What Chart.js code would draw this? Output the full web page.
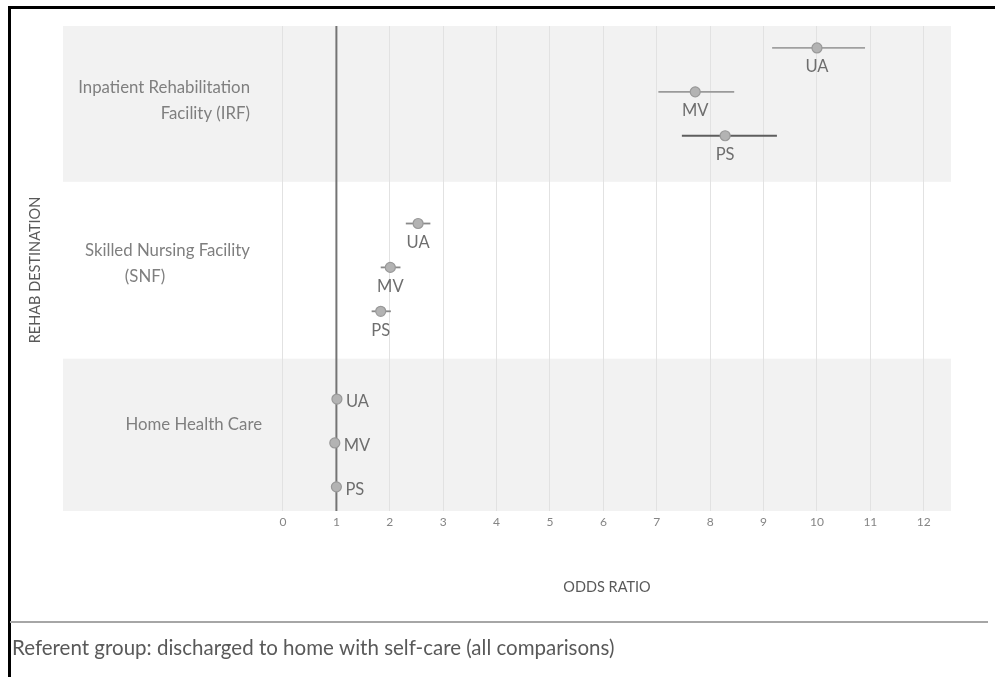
<!DOCTYPE html>
<html>
<head>
<meta charset="utf-8">
<script src="https://cdn.jsdelivr.net/npm/chart.js@4/dist/chart.umd.min.js"></script>
<style>
  html, body { margin: 0; padding: 0; background: #fff; }
  #wrap { position: relative; width: 995px; height: 677px; overflow: hidden; }
  #frame { position: absolute; left: 8px; top: 6px; width: 1000px; height: 700px;
           border-left: 3px solid #000; border-top: 3px solid #000; pointer-events: none; }
  canvas { position: absolute; left: 0; top: 0; }
</style>
</head>
<body>
<div id="wrap">
  <div id="frame"></div>
  <canvas id="chart" width="995" height="677"></canvas>
</div>
<script>
// Rehab destinations (rows, top to bottom) and the three model estimates per row
const categories = [
  ['Inpatient Rehabilitation', 'Facility (IRF)'],
  ['Skilled Nursing Facility', '(SNF)'],
  ['Home Health Care']
];
const models = ['UA', 'MV', 'PS'];

// Odds ratios with 95% confidence limits, per destination, in model order
const oddsIRF = [10.0, 7.72, 8.28];
const lowIRF  = [9.16, 7.03, 7.47];
const highIRF = [10.9, 8.45, 9.25];

const oddsSNF = [2.53, 2.01, 1.83];
const lowSNF  = [2.30, 1.83, 1.66];
const highSNF = [2.76, 2.20, 2.02];

const oddsHHC = [1.01, 0.97, 1.00];
const lowHHC  = [1.01, 0.97, 1.00];
const highHHC = [1.01, 0.97, 1.00];

const xTicks = [0, 1, 2, 3, 4, 5, 6, 7, 8, 9, 10, 11, 12];
const referenceOR = 1;

const FONT = 'Lato, "Open Sans", sans-serif';
const groups = [
  { odds: oddsIRF, low: lowIRF, high: highIRF },
  { odds: oddsSNF, low: lowSNF, high: highSNF },
  { odds: oddsHHC, low: lowHHC, high: highHHC }
];

// Each destination takes four row slots (three estimates plus a spacer)
const Y_MAX = 11;
function rowY(g, m) { return Y_MAX - (g * 4 + m) - 0.5; }

const points = [];
groups.forEach((grp, g) => {
  grp.odds.forEach((v, m) => {
    points.push({ x: v, y: rowY(g, m), lo: grp.low[m], hi: grp.high[m], g, m, name: models[m] });
  });
});

const barColors = [['#a0a0a0', '#9a9a9a', '#5e5e5e'], ['#8a8a8a', '#8a8a8a', '#8a8a8a'], ['#999', '#999', '#999']];

const forestPlugin = {
  id: 'forest',
  beforeDraw(chart) {
    const { ctx, chartArea: a, scales: { y } } = chart;
    ctx.save();
    ctx.fillStyle = '#f2f2f2';
    // shaded bands behind the first and last destination
    const bands = [[7.45, Y_MAX], [y.min, 3.42]];
    bands.forEach(([b0, b1]) => {
      const top = y.getPixelForValue(b1), bot = y.getPixelForValue(b0);
      ctx.fillRect(a.left, top, a.right - a.left, bot - top);
    });
    ctx.restore();
  },
  beforeDatasetsDraw(chart) {
    const { ctx, chartArea: a, scales: { x, y } } = chart;
    ctx.save();
    // reference line at odds ratio 1
    const rx = x.getPixelForValue(referenceOR);
    ctx.strokeStyle = '#747474';
    ctx.lineWidth = 2;
    ctx.beginPath();
    ctx.moveTo(rx, a.top);
    ctx.lineTo(rx, a.bottom);
    ctx.stroke();
    // confidence intervals
    points.forEach(p => {
      const py = y.getPixelForValue(p.y);
      ctx.strokeStyle = barColors[p.g][p.m];
      ctx.lineWidth = 1.8;
      ctx.beginPath();
      ctx.moveTo(x.getPixelForValue(p.lo), py);
      ctx.lineTo(x.getPixelForValue(p.hi), py);
      ctx.stroke();
    });
    ctx.restore();
  },
  afterDatasetsDraw(chart) {
    const { ctx, scales: { x, y } } = chart;
    ctx.save();
    ctx.fillStyle = '#6e6e6e';
    ctx.font = '16.5px ' + FONT;
    ctx.textBaseline = 'middle';
    points.forEach(p => {
      const px = x.getPixelForValue(p.x), py = y.getPixelForValue(p.y);
      if (p.g === 2) {
        ctx.textAlign = 'left';
        ctx.fillText(p.name, px + 9, py + 3);
      } else {
        ctx.textAlign = 'center';
        ctx.fillText(p.name, px, py + 19);
      }
    });
    // destination labels
    ctx.fillStyle = '#7f7f7f';
    ctx.font = '16.8px ' + FONT;
    const labelSpecs = [
      { dy: 9, lines: [{ x: 250, align: 'right', dy: -13 }, { x: 250, align: 'right', dy: 13 }] },
      { dy: -4, lines: [{ x: 250, align: 'right', dy: -13 }, { x: 145, align: 'center', dy: 13 }] },
      { dy: -18, lines: [{ x: 262, align: 'right', dy: 0 }] }
    ];
    categories.forEach((lines, g) => {
      const spec = labelSpecs[g];
      const cy = y.getPixelForValue(rowY(g, 1)) + spec.dy;
      lines.forEach((txt, i) => {
        const s = spec.lines[i];
        ctx.textAlign = s.align;
        ctx.fillText(txt, s.x, cy + s.dy);
      });
    });
    // axis titles
    ctx.fillStyle = '#595959';
    ctx.font = '14.5px ' + FONT;
    ctx.textAlign = 'center';
    ctx.fillText('ODDS RATIO', 607, 587);
    ctx.save();
    ctx.translate(35, 270);
    ctx.rotate(-Math.PI / 2);
    ctx.fillText('REHAB DESTINATION', 0, 0);
    ctx.restore();
    // note below the chart
    ctx.strokeStyle = '#a6a6a6';
    ctx.lineWidth = 2;
    ctx.beginPath();
    ctx.moveTo(10, 622);
    ctx.lineTo(988, 622);
    ctx.stroke();
    ctx.fillStyle = '#595959';
    ctx.font = '20.5px ' + FONT;
    ctx.textAlign = 'left';
    ctx.fillText('Referent group: discharged to home with self-care (all comparisons)', 12, 648);
    ctx.restore();
  }
};

new Chart(document.getElementById('chart'), {
  type: 'scatter',
  data: {
    datasets: [{
      data: points,
      pointRadius: 5,
      pointHoverRadius: 5,
      pointBackgroundColor: '#b3b3b3',
      pointBorderColor: '#999999',
      pointBorderWidth: 1.2
    }]
  },
  options: {
    responsive: false,
    animation: false,
    events: [],
    layout: { padding: { left: 63, right: 44, top: 26, bottom: 146 } },
    plugins: { legend: { display: false }, tooltip: { enabled: false } },
    scales: {
      x: {
        type: 'linear',
        min: -4.12,
        max: 12.51,
        afterBuildTicks(scale) { scale.ticks = xTicks.map(v => ({ value: v })); },
        afterFit(scale) { scale.height = 20; },
        ticks: { color: '#858585', font: { family: FONT, size: 12 }, padding: 4 },
        grid: { color: '#e2e2e2', lineWidth: 1, drawTicks: false },
        border: { display: false }
      },
      y: {
        type: 'linear',
        min: -0.05,
        max: Y_MAX,
        display: false
      }
    }
  },
  plugins: [forestPlugin]
});
</script>
</body>
</html>
